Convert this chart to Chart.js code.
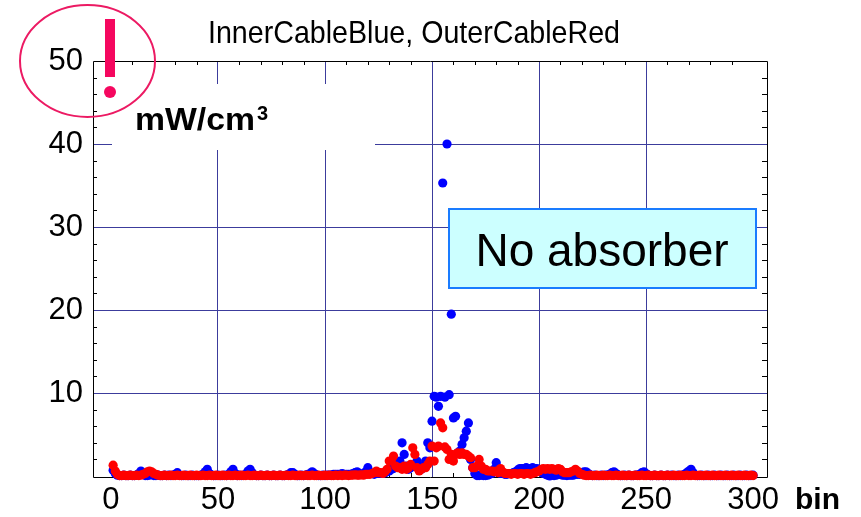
<!DOCTYPE html>
<html>
<head>
<meta charset="utf-8">
<script src="https://cdn.jsdelivr.net/npm/chart.js@4.4.1/dist/chart.umd.min.js"></script>
<style>
  html, body { margin: 0; padding: 0; background: #ffffff; }
  #wrap { width: 861px; height: 517px; }
</style>
</head>
<body>
<div id="wrap"><canvas id="c" width="861" height="517"></canvas></div>
<script>
// Power density per bin (bins 1..300), inner cable and outer cable
const firstBin = 1;

const innerCable = [
  0.7,0.3,0.1,0.05,0.05,0.1,0.05,0.05,0.1,0.05,0.05,0.1,0.3,0.6,0.2,0.05,0.05,0.1,0.2,0.05,
  0.05,0.1,0.05,0.05,0.1,0.05,0.1,0.05,0.1,0.2,0.4,0.1,0.05,0.05,0.1,0.05,0.05,0.1,0.05,0.05,
  0.05,0.1,0.2,0.5,0.8,0.3,0.1,0.05,0.05,0.1,0.05,0.05,0.1,0.05,0.2,0.5,0.8,0.3,0.05,0.1,
  0.05,0.1,0.2,0.6,0.8,0.4,0.1,0.05,0.05,0.1,0.05,0.05,0.1,0.05,0.05,0.1,0.05,0.05,0.1,0.05,
  0.05,0.1,0.2,0.4,0.4,0.2,0.05,0.05,0.1,0.05,0.1,0.2,0.3,0.5,0.3,0.1,0.05,0.05,0.1,0.05,
  0.1,0.1,0.1,0.2,0.2,0.2,0.2,0.3,0.2,0.2,0.2,0.2,0.3,0.4,0.5,0.3,0.2,0.3,0.5,1.0,
  0.4,0.3,0.2,0.3,0.4,0.3,0.3,0.4,0.5,0.6,0.8,0.9,1.1,1.6,1.8,4.0,2.6,1.2,0.8,1.0,
  1.2,1.4,1.8,1.0,0.8,1.2,1.8,4.0,3.4,6.6,9.6,9.5,8.4,9.6,35.3,9.5,40.0,9.8,19.5,7.0,
  7.2,2.8,3.0,3.8,4.6,5.4,6.4,2.0,1.0,0.3,0.05,0.05,0.1,0.05,0.05,0.1,0.2,0.3,0.8,1.6,
  0.6,0.3,0.3,0.2,0.2,0.3,0.3,0.4,0.5,0.7,0.9,0.9,0.9,1.0,0.9,0.9,1.0,0.9,0.9,0.8,
  0.5,0.3,0.2,0.1,0.0,0.1,0.05,0.1,0.2,0.2,0.1,0.1,0.05,0.1,0.1,0.1,0.2,0.2,0.2,0.3,
  0.5,0.5,0.3,0.1,0.05,0.1,0.05,0.05,0.1,0.05,0.1,0.1,0.2,0.4,0.5,0.3,0.1,0.05,0.05,0.1,
  0.05,0.1,0.05,0.05,0.1,0.1,0.2,0.4,0.5,0.3,0.1,0.05,0.05,0.1,0.05,0.05,0.1,0.05,0.05,0.1,
  0.05,0.1,0.05,0.05,0.1,0.05,0.1,0.2,0.4,0.6,0.8,0.4,0.1,0.05,0.05,0.1,0.05,0.05,0.1,0.05,
  0.05,0.1,0.05,0.05,0.1,0.05,0.05,0.1,0.05,0.05,0.1,0.05,0.05,0.1,0.05,0.05,0.1,0.05,0.05,0.1
];

const outerCable = [
  1.3,0.6,0.2,0.05,0.05,0.1,0.05,0.05,0.1,0.05,0.05,0.1,0.05,0.1,0.2,0.3,0.5,0.6,0.5,0.3,
  0.2,0.1,0.05,0.05,0.1,0.05,0.05,0.1,0.05,0.05,0.1,0.05,0.05,0.1,0.05,0.05,0.1,0.05,0.05,0.1,
  0.05,0.05,0.1,0.05,0.05,0.1,0.05,0.05,0.1,0.05,0.05,0.1,0.05,0.05,0.1,0.05,0.05,0.1,0.05,0.05,
  0.1,0.05,0.05,0.1,0.05,0.05,0.1,0.05,0.05,0.1,0.05,0.05,0.1,0.05,0.05,0.1,0.05,0.05,0.1,0.05,
  0.05,0.1,0.05,0.05,0.1,0.05,0.05,0.1,0.05,0.05,0.1,0.05,0.05,0.1,0.05,0.05,0.1,0.05,0.05,0.1,
  0.05,0.1,0.05,0.05,0.1,0.05,0.1,0.05,0.1,0.1,0.05,0.1,0.1,0.15,0.1,0.1,0.15,0.1,0.2,0.2,
  0.2,0.3,0.4,0.6,0.4,0.4,0.3,0.5,0.8,1.8,1.8,2.4,1.2,1.0,1.0,0.8,1.2,0.8,1.0,1.4,
  3.4,2.6,1.0,0.6,0.8,1.0,1.0,1.4,1.8,3.6,1.8,3.4,3.6,6.4,5.8,3.5,3.2,2.0,2.6,1.8,
  2.6,2.8,2.6,2.8,2.6,2.6,2.4,2.2,1.0,1.0,1.2,2.0,1.2,0.8,0.8,0.6,0.6,0.6,0.5,0.6,
  0.4,0.9,0.5,0.3,0.3,0.3,0.2,0.3,0.3,0.2,0.3,0.3,0.2,0.3,0.3,0.2,0.3,0.4,0.5,0.6,
  0.8,0.9,0.8,0.9,0.8,0.9,0.8,0.7,0.9,0.8,0.5,0.4,0.4,0.4,0.5,0.6,0.8,0.6,0.3,0.2,
  0.1,0.05,0.05,0.1,0.05,0.05,0.1,0.05,0.05,0.1,0.05,0.05,0.1,0.05,0.05,0.1,0.05,0.05,0.1,0.05,
  0.05,0.1,0.05,0.05,0.1,0.05,0.05,0.1,0.05,0.05,0.1,0.05,0.05,0.1,0.05,0.05,0.1,0.05,0.05,0.1,
  0.05,0.05,0.1,0.05,0.05,0.1,0.05,0.05,0.1,0.05,0.05,0.1,0.05,0.05,0.1,0.05,0.05,0.1,0.05,0.05,
  0.1,0.05,0.05,0.1,0.05,0.05,0.1,0.05,0.05,0.1,0.05,0.05,0.1,0.05,0.05,0.1,0.05,0.05,0.1,0.05
];

const xTickValues = [0, 50, 100, 150, 200, 250, 300];
const yTickValues = [10, 20, 30, 40, 50];

const chartTitle = 'InnerCableBlue, OuterCableRed';
const unitText = 'mW/cm';
const unitPower = '3';
const binText = 'bin';
const noteText = 'No absorber';

const toPoints = arr => arr.map((v, i) => ({ x: firstBin + i, y: v }));

const FONT = '"Liberation Sans", Arial, Helvetica, sans-serif';
const GRID = '#3c3c9c';

// text squeezed horizontally to a given width
function fittedText(ctx, text, x, y, font, width, align) {
  ctx.save();
  ctx.font = font;
  const w = ctx.measureText(text).width;
  const k = width / w;
  ctx.translate(x, y);
  ctx.scale(k, 1);
  ctx.textAlign = align || 'left';
  ctx.fillText(text, 0, 0);
  ctx.restore();
}

const decor = {
  id: 'decor',
  beforeDatasetsDraw(chart) {
    const { ctx, chartArea: a, scales: { x, y } } = chart;
    ctx.save();
    // blank panel behind the unit label
    ctx.fillStyle = '#ffffff';
    ctx.fillRect(112, 84, 263, 66);

    // frame
    ctx.strokeStyle = '#000000';
    ctx.lineWidth = 1;
    ctx.beginPath();
    ctx.rect(Math.round(a.left) + 0.5, Math.round(a.top) + 0.5,
             Math.round(a.right - a.left), Math.round(a.bottom - a.top));
    ctx.stroke();

    // minor ticks
    ctx.beginPath();
    for (let v = 2; v < 50; v += 2) {
      if (v % 10 === 0) continue;
      const py = Math.round(y.getPixelForValue(v)) + 0.5;
      ctx.moveTo(a.left, py); ctx.lineTo(a.left + 4, py);
      ctx.moveTo(a.right, py); ctx.lineTo(a.right - 5, py);
    }
    for (let v = 10; v <= 300; v += 10) {
      if (v % 50 === 0) continue;
      const px = Math.round(x.getPixelForValue(v)) + 0.5;
      ctx.moveTo(px, a.bottom); ctx.lineTo(px, a.bottom - 4);
      ctx.moveTo(px, a.top); ctx.lineTo(px, a.top + 4);
    }
    ctx.stroke();

    // unit label
    ctx.fillStyle = '#000000';
    ctx.textBaseline = 'alphabetic';
    fittedText(ctx, unitText, 135, 130, 'bold 31px ' + FONT, 120);
    ctx.font = 'bold 20px ' + FONT;
    ctx.fillText(unitPower, 257, 120);
    ctx.restore();
  },
  afterDraw(chart) {
    const { ctx } = chart;
    ctx.save();
    // title
    ctx.fillStyle = '#000000';
    ctx.textBaseline = 'alphabetic';
    fittedText(ctx, chartTitle, 414, 43, '32px ' + FONT, 412, 'center');

    // axis name
    ctx.font = 'bold 30px ' + FONT;
    ctx.textAlign = 'left';
    ctx.fillText(binText, 795, 509);

    // note box
    ctx.fillStyle = '#ccffff';
    ctx.fillRect(448, 208, 309, 81);
    ctx.strokeStyle = '#1a7cff';
    ctx.lineWidth = 2;
    ctx.strokeRect(449, 209, 307, 79);
    ctx.fillStyle = '#000000';
    ctx.font = '46px ' + FONT;
    ctx.textAlign = 'center';
    ctx.fillText(noteText, 602, 266);

    // highlight mark
    ctx.strokeStyle = '#ec1a63';
    ctx.lineWidth = 2;
    ctx.beginPath();
    ctx.ellipse(87.5, 61, 67.5, 56, 0, 0, Math.PI * 2);
    ctx.stroke();
    ctx.fillStyle = '#f5075f';
    ctx.fillRect(105, 19, 10, 58);
    ctx.beginPath();
    ctx.arc(110, 92, 6, 0, Math.PI * 2);
    ctx.fill();
    ctx.restore();
  }
};

new Chart(document.getElementById('c'), {
  type: 'scatter',
  data: {
    datasets: [
      {
        label: 'Inner cable',
        data: toPoints(innerCable),
        backgroundColor: '#0000ff',
        borderWidth: 0,
        pointRadius: 4.6,
        clip: false,
        order: 1
      },
      {
        label: 'Outer cable',
        data: toPoints(outerCable),
        backgroundColor: '#ff0000',
        borderWidth: 0,
        pointRadius: 4.6,
        clip: false,
        order: 0
      }
    ]
  },
  options: {
    responsive: false,
    animation: false,
    devicePixelRatio: 1,
    layout: { padding: { left: 0, top: 61, right: 94, bottom: 0 } },
    plugins: { legend: { display: false }, tooltip: { enabled: false }, title: { display: false } },
    scales: {
      x: {
        type: 'linear',
        min: -8.4,
        max: 306.5,
        afterBuildTicks: s => { s.ticks = xTickValues.map(v => ({ value: v })); },
        afterFit: s => { s.height = 40; },
        border: { display: false },
        grid: {
          drawTicks: false,
          lineWidth: 1,
          color: c => (c.tick && (c.tick.value === 0 || c.tick.value === 300)) ? 'rgba(0,0,0,0)' : GRID
        },
        ticks: {
          color: '#000000',
          font: { family: FONT, size: 31 },
          padding: 5,
          maxRotation: 0,
          autoSkip: false,
          callback: v => String(v)
        }
      },
      y: {
        min: -0.12,
        max: 50,
        afterBuildTicks: s => { s.ticks = yTickValues.map(v => ({ value: v })); },
        afterFit: s => { s.width = 93; },
        border: { display: false },
        grid: {
          drawTicks: false,
          lineWidth: 1,
          color: c => (c.tick && c.tick.value === 50) ? 'rgba(0,0,0,0)' : GRID
        },
        ticks: {
          color: '#000000',
          font: { family: FONT, size: 31 },
          padding: 10,
          autoSkip: false,
          callback: v => String(v)
        }
      }
    }
  },
  plugins: [decor]
});
</script>
</body>
</html>
